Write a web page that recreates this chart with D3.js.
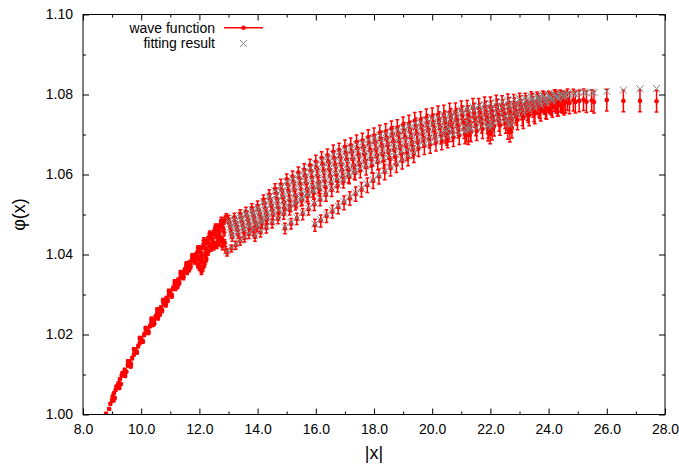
<!DOCTYPE html>
<html><head><meta charset="utf-8">
<script src="https://cdn.jsdelivr.net/npm/d3@7"></script>
<style>body{margin:0;background:#fff} text{font-family:"Liberation Sans",Arial,sans-serif}</style>
</head><body><svg id="c" width="679" height="466"></svg>
<script>
// ---------------- data ----------------
const xMajorTicks = [8,10,12,14,16,18,20,22,24,26,28];
const xTickLabels = ["8.0","10.0","12.0","14.0","16.0","18.0","20.0","22.0","24.0","26.0","28.0"];
const xMinorTicks = [9,11,13,15,17,19,21,23,25,27];
const yMajorTicks = [1.00,1.02,1.04,1.06,1.08,1.10];
const yTickLabels = ["1.00","1.02","1.04","1.06","1.08","1.10"];
const yMinorTicks = [1.01,1.03,1.05,1.07,1.09];
const seriesNames = ["wave function","fitting result"];

// wave function only (no fit): [|x|, phi, err*1e4]
const innerPts = [
[8.79,1.0002,3],[8.90,1.0014,3],[8.94,1.0027,3],[9.00,1.0036,3],[9.02,1.0045,3],[9.06,1.0053,3],[9.09,1.0041,3],[9.12,1.0061,3],[9.17,1.0069,3],[9.22,1.0078,3],
[9.27,1.0088,3],[9.30,1.0076,3],[9.33,1.0097,3],[9.38,1.0103,3],[9.43,1.0112,3],[9.49,1.0107,3],[9.54,1.0123,4],[9.60,1.0131,4],[9.64,1.0120,4],[9.69,1.0141,4],
[9.75,1.0150,4],[9.80,1.0162,4],[9.85,1.0156,4],[9.90,1.0171,4],[9.95,1.0179,4],[10.00,1.0190,4],[10.05,1.0183,4],[10.10,1.0199,4],[10.15,1.0205,4],[10.20,1.0212,4],
[10.25,1.0207,4],[10.30,1.0221,4],[10.35,1.0229,4],[10.40,1.0224,4],[10.44,1.0237,5],[10.49,1.0244,5],[10.54,1.0250,5],[10.58,1.0241,5],[10.63,1.0261,5],[10.68,1.0267,5],
[10.72,1.0260,5],[10.77,1.0277,5],[10.82,1.0283,5],[10.86,1.0290,5],[10.91,1.0285,5],[10.95,1.0299,5],[11.00,1.0305,5],[11.05,1.0296,5],[11.09,1.0315,5],[11.14,1.0321,5],
[11.18,1.0315,5],[11.22,1.0331,5],[11.27,1.0336,5],[11.31,1.0329,5],[11.36,1.0345,6],[11.40,1.0351,6],[11.45,1.0345,6],[11.49,1.0360,6],[11.53,1.0365,6],[11.58,1.0356,6],
[11.62,1.0373,6],[11.66,1.0379,6],[11.70,1.0370,6],[11.75,1.0387,6],[11.79,1.0392,6],[11.83,1.0382,6],[11.87,1.0398,6],[11.92,1.0403,6],[11.96,1.0390,6],[12.00,1.0409,6],
[12.04,1.0414,7],[12.08,1.0399,7],[12.12,1.0420,7],[12.17,1.0426,7],[12.21,1.0413,7],[12.25,1.0432,7],[12.29,1.0438,7],[12.33,1.0424,7],[12.37,1.0444,7],[12.41,1.0449,7],
[12.45,1.0436,7],[12.49,1.0454,7],[12.53,1.0459,7],[12.57,1.0447,7],[12.61,1.0464,7],[12.65,1.0469,7],[12.69,1.0457,7],[12.73,1.0474,8],[12.77,1.0479,8],[12.81,1.0466,8],
[12.85,1.0484,8],[12.89,1.0488,8],[11.95,1.0372,6],[12.02,1.0380,6],[12.07,1.0357,7],[12.12,1.0366,7],[12.18,1.0376,7],[12.24,1.0389,7],[12.55,1.0425,7],[12.63,1.0433,7],
[12.71,1.0441,8],[12.79,1.0420,8],[12.87,1.0429,8]
];
const innerPts2 = [
[9.05,1.0035,3],[9.15,1.0070,3],[9.25,1.0066,3],[9.35,1.0103,3],[9.45,1.0096,3],[9.55,1.0133,4],[9.65,1.0126,4],[9.75,1.0163,4],[9.85,1.0155,4],[9.95,1.0191,4],
[10.05,1.0182,4],[10.15,1.0216,4],[10.25,1.0204,4],[10.35,1.0239,4],[10.45,1.0228,5],[10.55,1.0262,5],[10.65,1.0251,5],[10.75,1.0285,5],[10.85,1.0274,5],[10.95,1.0308,5],
[11.05,1.0297,5],[11.15,1.0332,5],[11.25,1.0320,5],[11.35,1.0354,6],[11.45,1.0343,6],[11.55,1.0376,6],[11.65,1.0363,6],[11.75,1.0396,6],[11.85,1.0383,6],[11.95,1.0416,6],
[12.05,1.0395,7],[12.15,1.0435,7],[12.25,1.0410,7],[12.35,1.0452,7],[12.45,1.0428,7],[12.55,1.0469,7],[12.65,1.0445,7],[12.75,1.0485,8],[12.85,1.0455,8],[12.92,1.0494,8],
[12.00,1.0366,6],[12.10,1.0385,7],[12.20,1.0398,7],[12.30,1.0405,7],[12.40,1.0415,7],[12.50,1.0418,7],[12.60,1.0422,7],[12.70,1.0430,8],[12.80,1.0436,8],[12.90,1.0412,8]
];

// fitted region, main band: [|x|, phi, err*1e4, fit]
const bandPts = [
[13.00,1.0488,10,1.0485],[13.07,1.0467,10,1.0468],[13.13,1.0443,10,1.0446],
[13.20,1.0493,10,1.0490],[13.27,1.0470,10,1.0472],[13.33,1.0450,10,1.0453],
[13.40,1.0502,10,1.0497],[13.47,1.0481,10,1.0479],[13.53,1.0457,11,1.0461],
[13.60,1.0507,11,1.0504],[13.67,1.0485,11,1.0487],[13.73,1.0466,11,1.0469],
[13.80,1.0516,11,1.0512],[13.87,1.0497,11,1.0495],[13.93,1.0472,11,1.0476],
[14.00,1.0522,12,1.0519],[14.07,1.0500,12,1.0502],[14.13,1.0481,12,1.0484],
[14.20,1.0537,12,1.0532],[14.27,1.0515,12,1.0513],[14.33,1.0489,12,1.0493],
[14.40,1.0550,12,1.0546],[14.47,1.0522,12,1.0525],[14.53,1.0499,13,1.0502],
[14.60,1.0564,13,1.0559],[14.67,1.0538,13,1.0535],[14.73,1.0505,13,1.0510],
[14.80,1.0575,13,1.0571],[14.87,1.0543,13,1.0546],[14.93,1.0515,13,1.0518],
[15.00,1.0588,13,1.0583],[15.07,1.0558,13,1.0555],[15.13,1.0521,14,1.0526],
[15.20,1.0595,14,1.0591],[15.27,1.0561,14,1.0564],[15.33,1.0530,14,1.0534],
[15.40,1.0605,14,1.0599],[15.47,1.0575,14,1.0572],[15.53,1.0537,14,1.0542],
[15.60,1.0612,15,1.0608],[15.67,1.0578,15,1.0581],[15.73,1.0547,15,1.0550],
[15.80,1.0623,15,1.0617],[15.87,1.0592,15,1.0589],[15.93,1.0553,15,1.0558],
[16.00,1.0632,16,1.0627],[16.07,1.0596,16,1.0599],[16.13,1.0562,16,1.0566],
[16.20,1.0641,16,1.0636],[16.27,1.0609,16,1.0606],[16.33,1.0569,16,1.0574],
[16.40,1.0648,16,1.0644],[16.47,1.0612,16,1.0615],[16.53,1.0578,17,1.0582],
[16.60,1.0657,17,1.0651],[16.67,1.0624,17,1.0621],[16.73,1.0584,17,1.0589],
[16.80,1.0661,17,1.0657],[16.87,1.0625,17,1.0628],[16.93,1.0593,17,1.0596],
[17.00,1.0669,17,1.0663],[17.07,1.0637,17,1.0634],[17.13,1.0598,18,1.0603],
[17.20,1.0673,18,1.0669],[17.27,1.0638,18,1.0641],[17.33,1.0606,18,1.0609],
[17.40,1.0681,18,1.0675],[17.47,1.0649,18,1.0646],[17.53,1.0610,18,1.0615],
[17.60,1.0685,18,1.0681],[17.67,1.0650,18,1.0653],[17.73,1.0618,19,1.0621],
[17.80,1.0693,19,1.0687],[17.87,1.0661,19,1.0658],[17.93,1.0623,19,1.0628],
[18.00,1.0697,19,1.0693],[18.07,1.0662,19,1.0665],[18.13,1.0631,19,1.0634],
[18.20,1.0704,19,1.0698],[18.27,1.0673,19,1.0670],[18.33,1.0635,20,1.0640],
[18.40,1.0707,20,1.0703],[18.47,1.0673,20,1.0676],[18.53,1.0642,20,1.0645],
[18.60,1.0714,20,1.0708],[18.67,1.0683,20,1.0680],[18.73,1.0646,20,1.0651],
[18.80,1.0717,20,1.0713],[18.87,1.0683,20,1.0686],[18.93,1.0653,20,1.0656],
[19.00,1.0724,20,1.0718],[19.07,1.0693,20,1.0690],[19.13,1.0656,21,1.0661],
[19.20,1.0727,21,1.0723],[19.27,1.0693,21,1.0696],[19.33,1.0663,21,1.0666],
[19.40,1.0734,21,1.0728],[19.47,1.0703,21,1.0700],[19.53,1.0666,21,1.0671],
[19.60,1.0736,21,1.0732],[19.67,1.0702,21,1.0705],[19.73,1.0672,22,1.0675],
[19.80,1.0742,22,1.0737],[19.87,1.0712,22,1.0709],[19.93,1.0675,22,1.0680],
[20.00,1.0744,22,1.0741],[20.07,1.0711,22,1.0714],[20.13,1.0681,22,1.0685],
[20.20,1.0749,22,1.0745],[20.27,1.0720,22,1.0719],[20.33,1.0684,22,1.0690],
[20.40,1.0750,23,1.0749],[20.47,1.0719,23,1.0724],[20.53,1.0690,23,1.0695],
[20.60,1.0755,23,1.0752],[20.67,1.0727,23,1.0728],[20.73,1.0693,23,1.0699],
[20.80,1.0756,23,1.0755],[20.87,1.0726,23,1.0731],[20.93,1.0698,23,1.0704],
[21.00,1.0761,23,1.0762],[21.07,1.0734,23,1.0738],[21.13,1.0701,24,1.0708],
[21.20,1.0761,24,1.0765],[21.27,1.0732,24,1.0740],[21.33,1.0706,24,1.0713],
[21.40,1.0766,24,1.0769],[21.47,1.0741,24,1.0745],[21.53,1.0709,24,1.0717],
[21.60,1.0766,24,1.0772],[21.67,1.0739,24,1.0748],[21.73,1.0714,24,1.0721],
[21.80,1.0770,24,1.0775],[21.87,1.0747,24,1.0752],[21.93,1.0716,25,1.0725],
[22.00,1.0769,25,1.0777],[22.07,1.0743,25,1.0753],[22.13,1.0721,25,1.0729],
[22.20,1.0773,25,1.0780],[22.27,1.0751,25,1.0758],[22.33,1.0723,25,1.0733],
[22.40,1.0772,25,1.0782],[22.47,1.0749,25,1.0760],[22.53,1.0728,25,1.0737],
[22.60,1.0776,25,1.0785],[22.67,1.0757,25,1.0765],[22.73,1.0731,25,1.0742],
[22.80,1.0775,25,1.0787],[22.87,1.0754,25,1.0767],[22.93,1.0737,25,1.0748],
[23.00,1.0778,25,1.0790],[23.07,1.0762,25,1.0773],[23.13,1.0741,26,1.0753],
[23.20,1.0777,26,1.0792],[23.27,1.0761,26,1.0776],[23.33,1.0748,26,1.0760],
[23.40,1.0781,26,1.0795],[23.47,1.0769,26,1.0782],[23.53,1.0753,26,1.0766],
[23.60,1.0780,26,1.0797],[23.67,1.0770,26,1.0786],[23.73,1.0760,26,1.0772],
[23.80,1.0783,26,1.0799],[23.87,1.0776,26,1.0790],[23.93,1.0764,26,1.0778],
[24.00,1.0782,26,1.0800],[24.07,1.0777,26,1.0793],[24.13,1.0769,26,1.0784],
[24.20,1.0785,27,1.0802],[24.27,1.0780,27,1.0796],[24.33,1.0773,27,1.0789],
[24.40,1.0784,27,1.0803],[24.47,1.0782,27,1.0799],[24.53,1.0776,27,1.0793]
];
const bandPts2 = [
[13.035,1.0479,10,1.0477],[13.10,1.0451,10,1.0454],[13.235,1.0482,10,1.0482],[13.30,1.0462,10,1.0463],
[13.435,1.0492,10,1.0489],[13.50,1.0466,11,1.0469],[13.635,1.0497,11,1.0497],[13.70,1.0477,11,1.0477],
[13.835,1.0507,11,1.0504],[13.90,1.0481,11,1.0485],[14.035,1.0512,12,1.0511],[14.10,1.0492,12,1.0492],
[14.235,1.0528,12,1.0524],[14.30,1.0498,12,1.0502],[14.435,1.0538,12,1.0537],[14.50,1.0512,12,1.0512],
[14.635,1.0553,13,1.0549],[14.70,1.0518,13,1.0522],[14.835,1.0561,13,1.0560],[14.90,1.0531,13,1.0531],
[15.035,1.0575,13,1.0571],[15.10,1.0536,14,1.0540],[15.235,1.0580,14,1.0579],[15.30,1.0548,14,1.0548],
[15.435,1.0591,14,1.0587],[15.50,1.0552,14,1.0556],[15.635,1.0596,15,1.0595],[15.70,1.0564,15,1.0564],
[15.835,1.0609,15,1.0605],[15.90,1.0568,15,1.0572],[16.035,1.0615,16,1.0614],[16.10,1.0581,16,1.0581],
[16.235,1.0626,16,1.0622],[16.30,1.0585,16,1.0589],[16.435,1.0631,16,1.0630],[16.50,1.0597,16,1.0597],
[16.635,1.0641,17,1.0637],[16.70,1.0600,17,1.0604],[16.835,1.0645,17,1.0644],[16.90,1.0611,17,1.0611],
[17.035,1.0654,17,1.0650],[17.10,1.0613,17,1.0617],[17.235,1.0657,18,1.0656],[17.30,1.0623,18,1.0623],
[17.435,1.0666,18,1.0662],[17.50,1.0625,18,1.0629],[17.635,1.0669,18,1.0668],[17.70,1.0635,18,1.0635],
[17.835,1.0678,19,1.0674],[17.90,1.0638,19,1.0642],[18.035,1.0681,19,1.0680],[18.10,1.0648,19,1.0648],
[18.235,1.0689,19,1.0685],[18.30,1.0650,19,1.0654],[18.435,1.0691,20,1.0690],[18.50,1.0659,20,1.0659],
[18.635,1.0700,20,1.0696],[18.70,1.0661,20,1.0665],[18.835,1.0702,20,1.0701],[18.90,1.0670,20,1.0670],
[19.035,1.0710,20,1.0706],[19.10,1.0671,20,1.0675],[19.235,1.0712,21,1.0711],[19.30,1.0680,21,1.0680],
[19.435,1.0720,21,1.0716],[19.50,1.0681,21,1.0685],[19.635,1.0721,21,1.0720],[19.70,1.0689,21,1.0689],
[19.835,1.0728,22,1.0724],[19.90,1.0689,22,1.0693],[20.035,1.0729,22,1.0728],[20.10,1.0697,22,1.0697],
[20.235,1.0735,22,1.0732],[20.30,1.0698,22,1.0703],[20.435,1.0736,23,1.0737],[20.50,1.0706,23,1.0708],
[20.635,1.0742,23,1.0741],[20.70,1.0706,23,1.0711],[20.835,1.0742,23,1.0745],[20.90,1.0714,23,1.0716],
[21.035,1.0749,23,1.0754],[21.10,1.0714,24,1.0722],[21.235,1.0748,24,1.0757],[21.30,1.0721,24,1.0727],
[21.435,1.0754,24,1.0760],[21.50,1.0721,24,1.0731],[21.635,1.0754,24,1.0763],[21.70,1.0728,24,1.0734],
[21.835,1.0759,24,1.0765],[21.90,1.0727,25,1.0737],[22.035,1.0758,25,1.0767],[22.10,1.0734,25,1.0740],
[22.235,1.0763,25,1.0769],[22.30,1.0733,25,1.0743],[22.435,1.0762,25,1.0771],[22.50,1.0740,25,1.0746],
[22.635,1.0767,25,1.0773],[22.70,1.0740,25,1.0750],[22.835,1.0766,25,1.0776],[22.90,1.0748,25,1.0755],
[23.035,1.0771,25,1.0783],[23.10,1.0748,26,1.0763],[23.235,1.0771,26,1.0786],[23.30,1.0756,26,1.0769],
[23.435,1.0776,26,1.0789],[23.50,1.0758,26,1.0775],[23.635,1.0776,26,1.0792],[23.70,1.0766,26,1.0779],
[23.835,1.0780,26,1.0794],[23.90,1.0766,26,1.0783],[24.035,1.0779,26,1.0796],[24.10,1.0774,26,1.0787],
[24.235,1.0784,27,1.0798],[24.30,1.0773,27,1.0791],[24.435,1.0782,27,1.0800],[24.50,1.0780,27,1.0795]
];

// fitted region, lower branches: [|x|, phi, err*1e4, fit]
const branchA = [
[12.95,1.0405,9,1.0408],[13.10,1.0415,9,1.0417],[13.25,1.0423,10,1.0426],[13.40,1.0433,10,1.0435],[13.55,1.0441,10,1.0444],
[13.70,1.0451,11,1.0453],[13.85,1.0459,11,1.0462],[14.00,1.0468,11,1.0471],[14.15,1.0477,12,1.0480],[14.30,1.0486,12,1.0489]
];
const branchB = [
[13.91,1.0444,11,1.0447],[14.10,1.0455,11,1.0458],[14.30,1.0466,12,1.0469],[14.50,1.0478,12,1.0481],[14.70,1.0489,12,1.0492],
[14.90,1.0501,13,1.0503],[15.10,1.0512,13,1.0515],[15.30,1.0524,13,1.0526],[15.50,1.0535,14,1.0538],[15.70,1.0546,14,1.0549],
[15.90,1.0558,14,1.0560],[16.10,1.0569,15,1.0572]
];
const branchC = [
[14.94,1.0465,13,1.0468],[15.15,1.0477,13,1.0480],[15.35,1.0489,14,1.0492],[15.55,1.0501,14,1.0504],[15.75,1.0513,14,1.0516],
[15.95,1.0525,15,1.0528],[16.15,1.0537,15,1.0540],[16.35,1.0549,16,1.0552],[16.55,1.0561,16,1.0564],[16.75,1.0572,16,1.0575],
[16.95,1.0583,17,1.0586],[17.15,1.0594,17,1.0597],[17.35,1.0604,18,1.0607]
];
const branchD = [
[15.97,1.0473,15,1.0476],[16.17,1.0484,15,1.0487],[16.37,1.0496,16,1.0499],[16.57,1.0507,16,1.0510],[16.77,1.0518,16,1.0521],
[16.97,1.0529,17,1.0532],[17.17,1.0540,17,1.0543],[17.37,1.0551,18,1.0554],[17.57,1.0562,18,1.0565],[17.77,1.0573,18,1.0576],
[17.97,1.0584,19,1.0587],[18.17,1.0595,19,1.0598],[18.37,1.0606,19,1.0609],[18.57,1.0616,20,1.0619],[18.77,1.0625,20,1.0628],
[18.97,1.0634,20,1.0637],[19.17,1.0643,21,1.0646],[19.37,1.0651,21,1.0654]
];
const dipPts = [
[20.45,1.0702,23,1.0712],[20.50,1.0696,23,1.0708],[20.57,1.0705,23,1.0714],[21.17,1.0706,24,1.0716],[21.24,1.0699,24,1.0712],[21.31,1.0708,24,1.0718],
[21.92,1.0709,25,1.0721],[21.99,1.0702,25,1.0716],[22.06,1.0711,25,1.0723],[22.60,1.0713,25,1.0727],[22.67,1.0706,25,1.0722],[22.74,1.0716,25,1.0730]
];
const tailPts = [
[24.58,1.0781,27,1.0800],[24.65,1.0787,27,1.0803],[24.72,1.0779,27,1.0798],[24.85,1.0786,27,1.0803],[24.92,1.0781,27,1.0801],
[25.05,1.0784,27,1.0804],[25.20,1.0787,27,1.0806],[25.30,1.0782,27,1.0804],[25.48,1.0785,27,1.0806],[25.56,1.0781,27,1.0805],
[26.00,1.0786,27,1.0808],[26.57,1.0784,27,1.0811],[27.14,1.0784,27,1.0814],[27.71,1.0783,27,1.0815]
];

// ---------------- drawing ----------------
const L = 83, R = 665, T = 14.5, B = 414.5;
const svg = d3.select("#c");
const x = d3.scaleLinear().domain([8, 28]).range([L, R]);
const y = d3.scaleLinear().domain([1.00, 1.10]).range([B, T]);

const fitted = [...bandPts, ...bandPts2, ...branchA, ...branchB, ...branchC, ...branchD, ...dipPts, ...tailPts];
const wave = [...innerPts, ...innerPts2, ...fitted].map(d => ({x: d[0], y: d[1], e: d[2] * 1e-4}));
const fit = fitted.map(d => ({x: d[0], y: d[3]}));

svg.append("defs").append("clipPath").attr("id", "clip")
  .append("rect").attr("x", L).attr("y", T).attr("width", R - L).attr("height", B - T);

const red = "#ff0000", gray = "#858585";
const plot = svg.append("g").attr("clip-path", "url(#clip)");

// error bars with small caps
const cap = 1.8;
plot.append("g").selectAll("path").data(wave).join("path")
  .attr("d", d => {
    const cx = x(d.x), lo = y(d.y - d.e), hi = y(d.y + d.e);
    return `M${cx},${lo}V${hi}M${cx - cap},${lo}H${cx + cap}M${cx - cap},${hi}H${cx + cap}`;
  })
  .attr("stroke", red).attr("stroke-width", 1.5).attr("fill", "none");
// points
plot.append("g").selectAll("circle").data(wave).join("circle")
  .attr("cx", d => x(d.x)).attr("cy", d => y(d.y)).attr("r", 2.3).attr("fill", red);
// fit crosses
const cross = "M-3.5,-3.5L3.5,3.5M-3.5,3.5L3.5,-3.5";
plot.append("g").selectAll("path").data(fit).join("path")
  .attr("transform", d => `translate(${x(d.x)},${y(d.y)})`)
  .attr("d", cross).attr("stroke", gray).attr("stroke-width", 1).attr("fill", "none");

// axes (inward ticks, mirrored)
function styleAxis(g) {
  g.select(".domain").remove();
  g.selectAll(".tick line").attr("stroke", "#000");
  g.selectAll(".tick text").attr("fill", "#000").style("font-size", "14px")
    .style("font-family", '"Liberation Sans", Arial, sans-serif');
}
svg.append("g").attr("transform", `translate(0,${B})`)
  .call(d3.axisBottom(x).tickValues(xMajorTicks).tickFormat((d, i) => xTickLabels[i]).tickSizeInner(-6).tickSizeOuter(0).tickPadding(9.5))
  .call(styleAxis);
svg.append("g").attr("transform", `translate(0,${B})`)
  .call(d3.axisBottom(x).tickValues(xMinorTicks).tickFormat("").tickSizeInner(-3).tickSizeOuter(0)).call(styleAxis);
svg.append("g").attr("transform", `translate(0,${T})`)
  .call(d3.axisTop(x).tickValues(xMajorTicks).tickFormat("").tickSizeInner(-6).tickSizeOuter(0)).call(styleAxis);
svg.append("g").attr("transform", `translate(0,${T})`)
  .call(d3.axisTop(x).tickValues(xMinorTicks).tickFormat("").tickSizeInner(-3).tickSizeOuter(0)).call(styleAxis);
svg.append("g").attr("transform", `translate(${L},0)`)
  .call(d3.axisLeft(y).tickValues(yMajorTicks).tickFormat((d, i) => yTickLabels[i]).tickSizeInner(-6).tickSizeOuter(0).tickPadding(10))
  .call(styleAxis);
svg.append("g").attr("transform", `translate(${L},0)`)
  .call(d3.axisLeft(y).tickValues(yMinorTicks).tickFormat("").tickSizeInner(-3).tickSizeOuter(0)).call(styleAxis);
svg.append("g").attr("transform", `translate(${R},0)`)
  .call(d3.axisRight(y).tickValues(yMajorTicks).tickFormat("").tickSizeInner(-6).tickSizeOuter(0)).call(styleAxis);
svg.append("g").attr("transform", `translate(${R},0)`)
  .call(d3.axisRight(y).tickValues(yMinorTicks).tickFormat("").tickSizeInner(-3).tickSizeOuter(0)).call(styleAxis);

// border
svg.append("rect").attr("x", L).attr("y", T).attr("width", R - L).attr("height", B - T)
  .attr("fill", "none").attr("stroke", "#000").attr("stroke-width", 1);

// axis titles
svg.append("text").attr("x", x(18)).attr("y", 459).attr("text-anchor", "middle")
  .style("font-size", "18px").text("|x|");
svg.append("text").attr("transform", `translate(25,${(T + B) / 2}) rotate(-90)`)
  .attr("text-anchor", "middle").style("font-size", "18px").text("φ(x)");

// legend
const lg = svg.append("g");
lg.append("text").attr("x", 215).attr("y", 32.5).attr("text-anchor", "end").style("font-size", "14px").text(seriesNames[0]);
lg.append("line").attr("x1", 224).attr("x2", 263).attr("y1", 27.8).attr("y2", 27.8).attr("stroke", red).attr("stroke-width", 1.5);
lg.append("circle").attr("cx", 243.5).attr("cy", 27.8).attr("r", 2.2).attr("fill", red);
lg.append("text").attr("x", 215).attr("y", 48.3).attr("text-anchor", "end").style("font-size", "14px").text(seriesNames[1]);
lg.append("path").attr("transform", "translate(243.5,43.5)").attr("d", cross).attr("stroke", gray).attr("stroke-width", 1).attr("fill", "none");
</script>
</body></html>
